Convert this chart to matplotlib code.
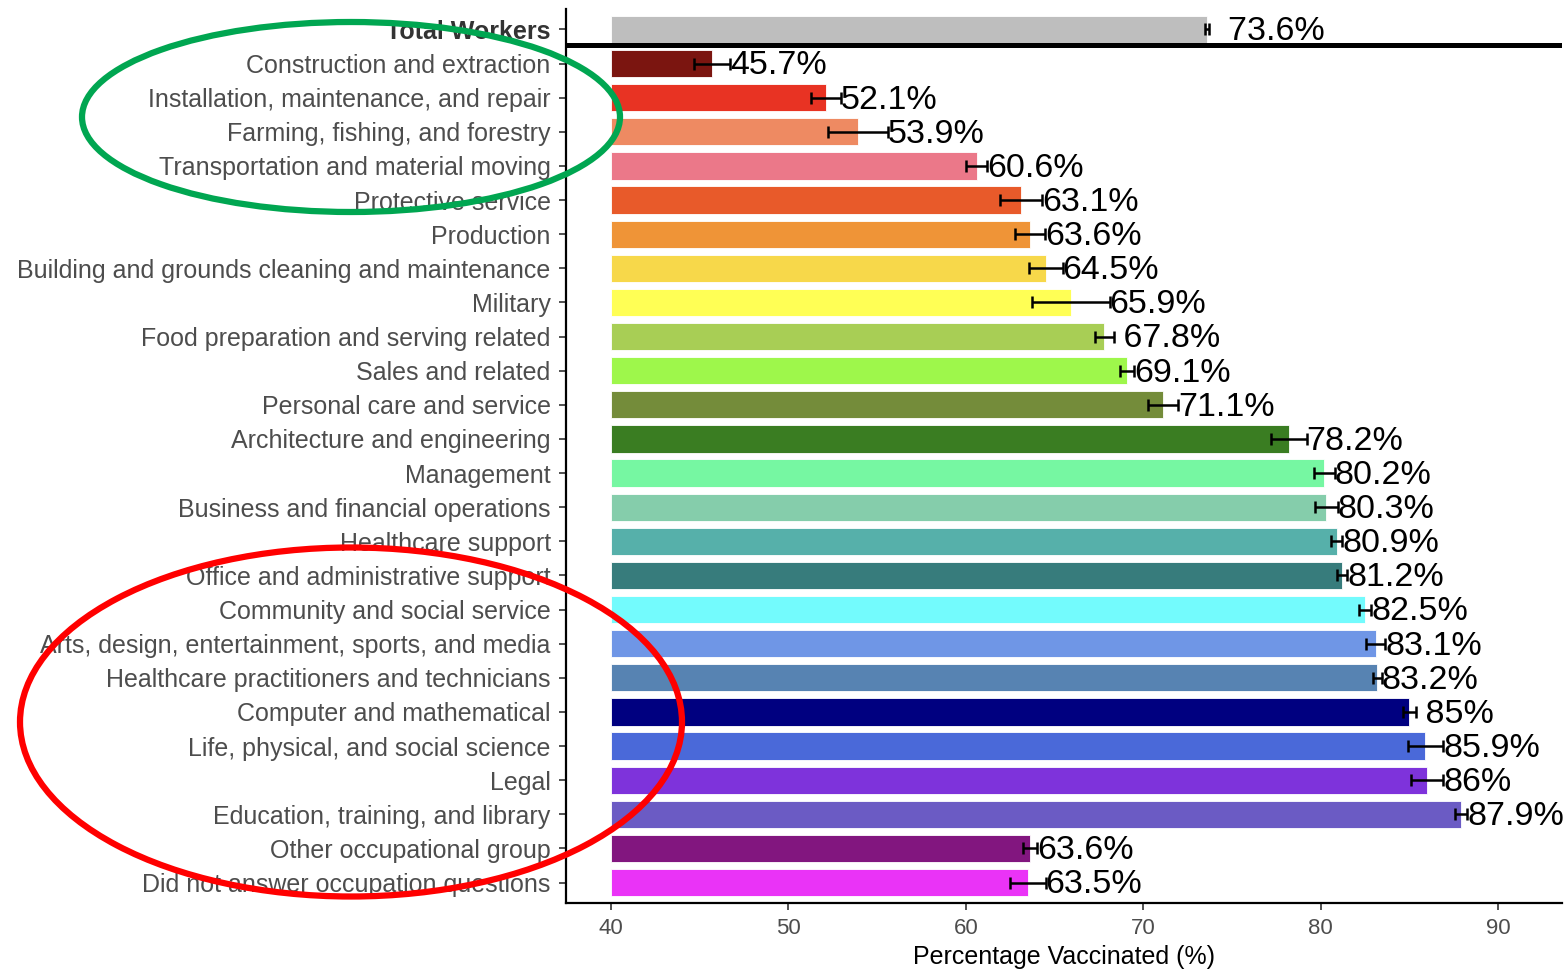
import matplotlib
matplotlib.use("Agg")
import matplotlib.pyplot as plt
from matplotlib.patches import Ellipse
import numpy as np

plt.rcParams['font.family'] = ['Liberation Sans', 'DejaVu Sans']

categories = [
    "Total Workers",
    "Construction and extraction",
    "Installation, maintenance, and repair",
    "Farming, fishing, and forestry",
    "Transportation and material moving",
    "Protective service",
    "Production",
    "Building and grounds cleaning and maintenance",
    "Military",
    "Food preparation and serving related",
    "Sales and related",
    "Personal care and service",
    "Architecture and engineering",
    "Management",
    "Business and financial operations",
    "Healthcare support",
    "Office and administrative support",
    "Community and social service",
    "Arts, design, entertainment, sports, and media",
    "Healthcare practitioners and technicians",
    "Computer and mathematical",
    "Life, physical, and social science",
    "Legal",
    "Education, training, and library",
    "Other occupational group",
    "Did not answer occupation questions",
]

values = [73.6, 45.7, 52.1, 53.9, 60.6, 63.1, 63.6, 64.5, 65.9, 67.8, 69.1, 71.1,
          78.2, 80.2, 80.3, 80.9, 81.2, 82.5, 83.1, 83.2, 85.0, 85.9, 86.0, 87.9,
          63.6, 63.5]

errors = [0.1, 1.0, 0.85, 1.7, 0.6, 1.2, 0.85, 0.95, 2.2, 0.55, 0.4, 0.85,
          1.0, 0.6, 0.65, 0.3, 0.3, 0.35, 0.55, 0.25, 0.35, 1.0, 0.9, 0.35,
          0.4, 1.0]

labels = ["  73.6%", "45.7%", "52.1%", "53.9%", "60.6%", "63.1%", "63.6%", "64.5%",
          "65.9%", " 67.8%", "69.1%", "71.1%", "78.2%", "80.2%", "80.3%", "80.9%",
          "81.2%", "82.5%", "83.1%", "83.2%", " 85%", "85.9%", "86%", "87.9%",
          "63.6%", "63.5%"]

colors = ["#BEBEBE", "#7B1510", "#E83323", "#EE8A62", "#EB7889", "#E85A2A",
          "#EF9437", "#F7D84A", "#FFFF55", "#A8CE55", "#9EF74B", "#748C3A",
          "#3A7D22", "#76F7A2", "#85CDAB", "#56B0AA", "#377C7C", "#73FBFD",
          "#6F96E6", "#5783B2", "#000080", "#4A69D9", "#7E33DB", "#6B5BC4",
          "#82167F", "#EA33F7"]

xticks = [40, 50, 60, 70, 80, 90]
base = 40

W, H = 1564, 974
fig = plt.figure(figsize=(W / 100, H / 100), dpi=100)
ax = fig.add_axes([566 / W, 1 - 903 / H, (1562 - 566) / W, (903 - 9) / H])

y = np.arange(len(categories))
vals = np.array(values)
errs = np.array(errors)

ax.barh(y, vals - base, left=base, height=0.8, color=colors,
        edgecolor='white', linewidth=0.6, zorder=2)
ax.errorbar(vals, y, xerr=errs, fmt='none', ecolor='black', elinewidth=1.8,
            capsize=4, capthick=1.8, zorder=3)
for yi, v, e, lab in zip(y, vals, errs, labels):
    ax.text(v + e, yi + 0.07, lab, ha='left', va='center', fontsize=24.5,
            color='black', zorder=4)

ax.axhline(0.45, color='black', linewidth=3.6, zorder=5)

ax.set_ylim(len(categories) - 0.4, -0.6)
ax.set_xlim(37.46, 93.6)

ax.set_yticks(y)
ax.set_yticklabels(categories, fontsize=18, color='#4D4D4D')
ax.get_yticklabels()[0].set_fontweight('bold')
ax.get_yticklabels()[0].set_color('#333333')
ax.set_xticks(xticks)
ax.set_xticklabels([str(t) for t in xticks], fontsize=16, color='#4D4D4D')
ax.tick_params(axis='both', length=5, width=1.2, color='#333333')
ax.tick_params(axis='y', pad=6)
ax.tick_params(axis='x', pad=6)
ax.set_xlabel("Percentage Vaccinated (%)", fontsize=18, color='black', labelpad=4)

for s in ['top', 'right']:
    ax.spines[s].set_visible(False)
for s in ['left', 'bottom']:
    ax.spines[s].set_linewidth(1.6)
    ax.spines[s].set_color('black')

fig.add_artist(Ellipse((351 / W, 1 - 117 / H), 538 / W, 190 / H,
                       transform=fig.transFigure, fill=False,
                       edgecolor='#00A651', linewidth=4.5, zorder=10))
fig.add_artist(Ellipse((351 / W, 1 - 722 / H), 662 / W, 349 / H,
                       transform=fig.transFigure, fill=False,
                       edgecolor='#FF0000', linewidth=4.5, zorder=10))

fig.savefig("out.png", dpi=100)
